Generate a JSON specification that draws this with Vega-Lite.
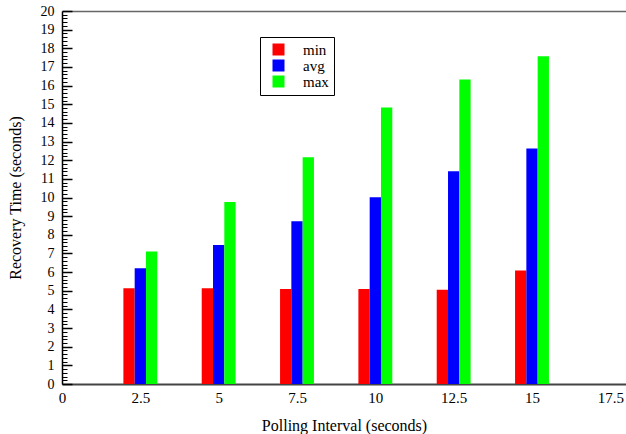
{
  "$schema": "https://vega.github.io/schema/vega-lite/v6.json",
  "width": 564,
  "height": 373,
  "autosize": {"type": "none"},
  "padding": {"left": 62, "top": 11, "right": 0, "bottom": 50},
  "config": {
    "view": {"stroke": null},
    "font": "Liberation Serif",
    "axis": {"labelFont": "Liberation Serif", "titleFont": "Liberation Serif", "labelColor": "black", "titleColor": "black", "titleFontWeight": "normal", "grid": false}
  },
  "data": {
    "values": [
      {"interval": 2.5, "stat": "min", "value": 5.14},
      {"interval": 2.5, "stat": "avg", "value": 6.2},
      {"interval": 2.5, "stat": "max", "value": 7.11},
      {"interval": 5, "stat": "min", "value": 5.13},
      {"interval": 5, "stat": "avg", "value": 7.45},
      {"interval": 5, "stat": "max", "value": 9.76},
      {"interval": 7.5, "stat": "min", "value": 5.09},
      {"interval": 7.5, "stat": "avg", "value": 8.72},
      {"interval": 7.5, "stat": "max", "value": 12.16},
      {"interval": 10, "stat": "min", "value": 5.09},
      {"interval": 10, "stat": "avg", "value": 10.01},
      {"interval": 10, "stat": "max", "value": 14.83},
      {"interval": 12.5, "stat": "min", "value": 5.06},
      {"interval": 12.5, "stat": "avg", "value": 11.41},
      {"interval": 12.5, "stat": "max", "value": 16.33},
      {"interval": 15, "stat": "min", "value": 6.08},
      {"interval": 15, "stat": "avg", "value": 12.63},
      {"interval": 15, "stat": "max", "value": 17.58}
    ]
  },
  "layer": [
    {
      "transform": [{"filter": "datum.stat === 'min'"}],
      "mark": {"type": "bar", "width": 11.3, "xOffset": -11.3},
      "encoding": {
        "x": {
          "field": "interval", "type": "quantitative",
          "scale": {"domain": [0, 18], "nice": false, "zero": false, "padding": 0},
          "axis": {
            "orient": "bottom",
            "values": [0, 2.5, 5, 7.5, 10, 12.5, 15, 17.5], "format": ".3~g",
            "ticks": false, "labelPadding": 6, "labelFontSize": 15,
            "labelFlush": false, "labelOverlap": false,
            "domainColor": "#444", "domainWidth": 2,
            "title": "Polling Interval (seconds)", "titleFontSize": 16,
            "titleX": 282, "titleY": 41, "titleBaseline": "middle", "titleAnchor": "middle", "titleAlign": "center"
          }
        },
        "y": {
          "field": "value", "type": "quantitative", "stack": null,
          "scale": {"domain": [0, 20], "nice": false},
          "axis": {
            "orient": "left",
            "values": [0,1,2,3,4,5,6,7,8,9,10,11,12,13,14,15,16,17,18,19,20], "format": "d",
            "tickSize": -10, "tickColor": "black", "tickWidth": 1.5,
            "labelPadding": 18, "labelFontSize": 14,
            "domainColor": "black", "domainWidth": 1.5,
            "title": "Recovery Time (seconds)", "titleFontSize": 16,
            "titleX": -47, "titleY": 186.5, "titleBaseline": "middle", "titleAngle": -90, "titleAlign": "center"
          }
        },
        "color": {
          "field": "stat", "type": "nominal",
          "scale": {"domain": ["min", "avg", "max"], "range": ["#ff0000", "#0000ff", "#00ff00"]},
          "legend": {
            "orient": "none", "legendX": 198, "legendY": 26, "title": null,
            "strokeColor": "black", "padding": 5, "symbolType": "square", "symbolSize": 144,
            "symbolStrokeWidth": 0, "symbolOffset": 6, "labelOffset": 17, "rowPadding": 0,
            "labelFont": "Liberation Serif", "labelFontSize": 15, "labelColor": "black"
          }
        }
      }
    },
    {
      "transform": [{"filter": "datum.stat === 'avg'"}],
      "mark": {"type": "bar", "width": 11.3, "xOffset": 0},
      "encoding": {
        "x": {"field": "interval", "type": "quantitative", "scale": {"domain": [0, 18], "nice": false, "zero": false, "padding": 0}, "axis": null},
        "y": {"field": "value", "type": "quantitative", "stack": null, "scale": {"domain": [0, 20], "nice": false}, "axis": null},
        "color": {"field": "stat", "type": "nominal", "scale": {"domain": ["min", "avg", "max"], "range": ["#ff0000", "#0000ff", "#00ff00"]}}
      }
    },
    {
      "transform": [{"filter": "datum.stat === 'max'"}],
      "mark": {"type": "bar", "width": 11.3, "xOffset": 11.3},
      "encoding": {
        "x": {"field": "interval", "type": "quantitative", "scale": {"domain": [0, 18], "nice": false, "zero": false, "padding": 0}, "axis": null},
        "y": {"field": "value", "type": "quantitative", "stack": null, "scale": {"domain": [0, 20], "nice": false}, "axis": null},
        "color": {"field": "stat", "type": "nominal", "scale": {"domain": ["min", "avg", "max"], "range": ["#ff0000", "#0000ff", "#00ff00"]}}
      }
    },
    {
      "mark": {"type": "point", "opacity": 0},
      "encoding": {
        "x": {
          "field": "interval", "type": "quantitative",
          "scale": {"domain": [0, 18], "nice": false, "zero": false, "padding": 0},
          "axis": {"orient": "top", "labels": false, "ticks": false, "title": null, "domainColor": "#666", "domainWidth": 1.5}
        },
        "y": {
          "field": "value", "type": "quantitative",
          "scale": {"domain": [0, 20], "nice": false},
          "axis": {
            "orient": "left", "labels": false, "domain": false, "title": null,
            "values": [0.2,0.4,0.6,0.8,1.2,1.4,1.6,1.8,2.2,2.4,2.6,2.8,3.2,3.4,3.6,3.8,4.2,4.4,4.6,4.8,5.2,5.4,5.6,5.8,6.2,6.4,6.6,6.8,7.2,7.4,7.6,7.8,8.2,8.4,8.6,8.8,9.2,9.4,9.6,9.8,10.2,10.4,10.6,10.8,11.2,11.4,11.6,11.8,12.2,12.4,12.6,12.8,13.2,13.4,13.6,13.8,14.2,14.4,14.6,14.8,15.2,15.4,15.6,15.8,16.2,16.4,16.6,16.8,17.2,17.4,17.6,17.8,18.2,18.4,18.6,18.8,19.2,19.4,19.6,19.8],
            "tickSize": -5, "tickColor": "black", "tickWidth": 1
          }
        }
      }
    }
  ],
  "resolve": {"axis": {"x": "independent", "y": "independent"}}
}
